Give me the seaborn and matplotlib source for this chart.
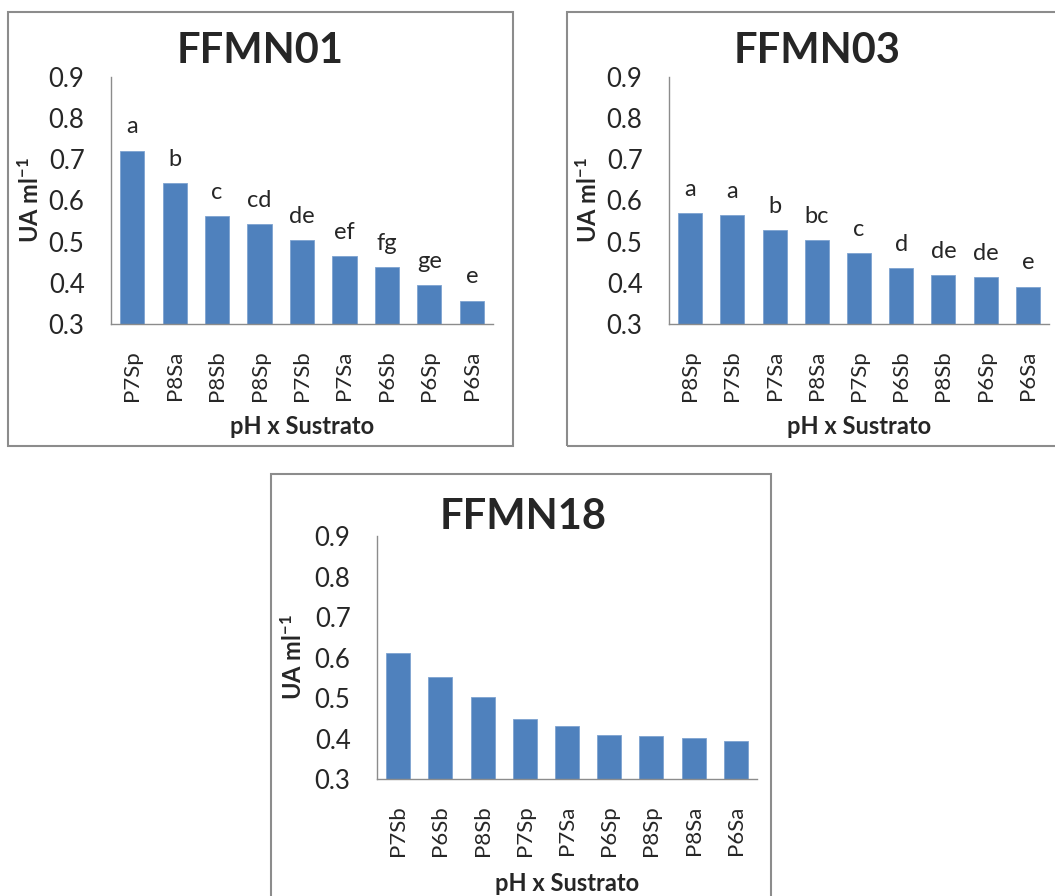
import numpy as np
import pandas as pd
import matplotlib.pyplot as plt
from matplotlib.patches import Rectangle
import seaborn as sns

# --- data ------------------------------------------------------------------
ffmn01_cats = ["P7Sp", "P8Sa", "P8Sb", "P8Sp", "P7Sb", "P7Sa", "P6Sb", "P6Sp", "P6Sa"]
ffmn01_vals = [0.721, 0.643, 0.562, 0.543, 0.504, 0.465, 0.438, 0.394, 0.357]
ffmn01_letters = ["a", "b", "c", "cd", "de", "ef", "fg", "ge", "e"]

ffmn03_cats = ["P8Sp", "P7Sb", "P7Sa", "P8Sa", "P7Sp", "P6Sb", "P8Sb", "P6Sp", "P6Sa"]
ffmn03_vals = [0.569, 0.565, 0.528, 0.504, 0.472, 0.435, 0.419, 0.413, 0.391]
ffmn03_letters = ["a", "a", "b", "bc", "c", "d", "de", "de", "e"]

ffmn18_cats = ["P7Sb", "P6Sb", "P8Sb", "P7Sp", "P7Sa", "P6Sp", "P8Sp", "P8Sa", "P6Sa"]
ffmn18_vals = [0.610, 0.551, 0.503, 0.448, 0.431, 0.409, 0.405, 0.402, 0.393]

y_ticks = [0.3, 0.4, 0.5, 0.6, 0.7, 0.8, 0.9]

BAR_COLOR = "#4F81BD"
W, H = 1055, 896

sns.set_style("white")
plt.rcParams["font.family"] = ["Lato", "DejaVu Sans"]
plt.rcParams["mathtext.fontset"] = "custom"
plt.rcParams["mathtext.rm"] = "Lato"
plt.rcParams["mathtext.default"] = "regular"

fig = plt.figure(figsize=(W / 100, H / 100), dpi=100)


def px_box(left, top, right, bottom):
    """pixel box (top-left origin) -> figure fraction [x0, y0, w, h]"""
    return [left / W, 1 - bottom / H, (right - left) / W, (bottom - top) / H]


def draw_panel(frame, axbox, title, title_xy, cats, vals, letters=None,
               ylab_x=-0.21, xlab_y=-0.42):
    # outer chart-area border
    x0, y0, w, h = px_box(*frame)
    fig.patches.append(Rectangle((x0, y0), w, h, transform=fig.transFigure,
                                 fill=False, edgecolor="#8c8c8c", linewidth=1.5))

    ax = fig.add_axes(px_box(*axbox))
    df = pd.DataFrame({"cat": cats, "val": vals})
    sns.barplot(data=df, x="cat", y="val", ax=ax, color=BAR_COLOR,
                saturation=1, width=0.57, edgecolor="#7ea3d0", linewidth=0.6)
    ax.set_ylim(0.3, 0.9)
    ax.set_xlim(-0.5, len(cats) - 0.5)
    ax.set_yticks(y_ticks)
    ax.set_yticklabels([f"{t:.1f}" for t in y_ticks])
    ax.tick_params(axis="y", length=0, pad=19, labelsize=18.5)
    ax.tick_params(axis="x", length=0, pad=19, labelsize=16, rotation=90)

    for side in ["top", "right"]:
        ax.spines[side].set_visible(False)
    for side in ["left", "bottom"]:
        ax.spines[side].set_color("#8c8c8c")
        ax.spines[side].set_linewidth(1.0)

    ax.set_xlabel("pH x Sustrato", fontsize=17, fontweight="bold", va="center")
    ax.set_ylabel(r"UA ml$^{-1}$", fontsize=17, fontweight="bold", va="center")
    ax.xaxis.set_label_coords(0.5, xlab_y)
    ax.yaxis.set_label_coords(ylab_x, 0.5)

    if letters is not None:
        for i, (v, lab) in enumerate(zip(vals, letters)):
            ax.text(i, v + 0.042, lab, ha="center", va="baseline", fontsize=17)

    # title centred over the whole chart area
    fig.text(title_xy[0] / W, 1 - title_xy[1] / H, title, ha="center",
             va="center", fontsize=30, fontweight="bold")
    return ax


draw_panel((8, 12, 513, 446), (111, 77, 493, 324), "FFMN01", (260, 51),
           ffmn01_cats, ffmn01_vals, ffmn01_letters,
           ylab_x=-0.212, xlab_y=-0.417)
draw_panel((567, 12, 1080, 446), (669, 77, 1049, 324), "FFMN03", (817, 51),
           ffmn03_cats, ffmn03_vals, ffmn03_letters,
           ylab_x=-0.213, xlab_y=-0.417)
draw_panel((271, 474, 771, 940), (377, 536, 757, 779), "FFMN18", (523, 517),
           ffmn18_cats, ffmn18_vals, ylab_x=-0.221, xlab_y=-0.428)

fig.savefig("out.png", dpi=100)
